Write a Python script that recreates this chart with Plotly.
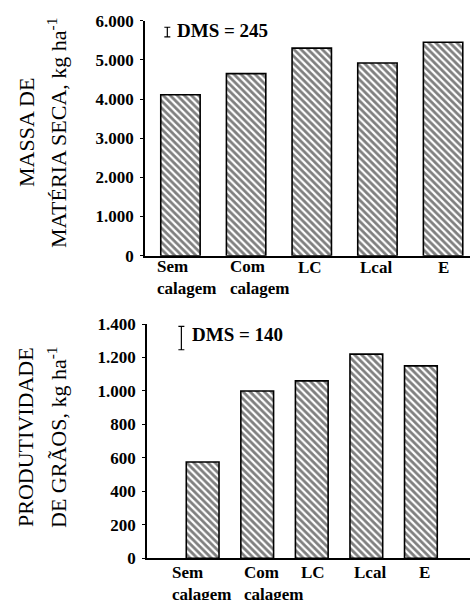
import plotly.graph_objects as go

# ---- data ----
categories = ["Sem<br>calagem", "Com<br>calagem", "LC", "Lcal", "E"]
massa_seca = [4110, 4650, 5300, 4920, 5450]
produtividade = [575, 1000, 1060, 1220, 1150]
dms_top = 245
dms_bottom = 140
dms_top_center = 5710
dms_bottom_center = 1316
top_ticks = [0, 1000, 2000, 3000, 4000, 5000, 6000]
top_ticktext = ["0", "1.000", "2.000", "3.000", "4.000", "5.000", "6.000"]
bottom_ticks = [0, 200, 400, 600, 800, 1000, 1200, 1400]
bottom_ticktext = ["0", "200", "400", "600", "800", "1.000", "1.200", "1.400"]

SERIF = "Liberation Serif"
idx = list(range(len(categories)))

fig = go.Figure()

bar_style = dict(
    marker=dict(color="white", line=dict(color="black", width=1.6),
                pattern=dict(shape="\\", fgcolor="black", bgcolor="white",
                             size=5, solidity=0.55)),
    width=0.6, showlegend=False, hoverinfo="skip")

fig.add_trace(go.Bar(x=idx, y=massa_seca, xaxis="x", yaxis="y", **bar_style))
fig.add_trace(go.Bar(x=idx, y=produtividade, xaxis="x2", yaxis="y2", **bar_style))

# DMS error bars
fig.add_trace(go.Scatter(x=[-0.2], y=[dms_top_center], xaxis="x", yaxis="y",
                         mode="markers", marker=dict(size=1, color="rgba(0,0,0,0)"),
                         error_y=dict(type="data", array=[dms_top / 2], color="black",
                                      thickness=1.2, width=3),
                         showlegend=False, hoverinfo="skip"))
fig.add_trace(go.Scatter(x=[-0.39], y=[dms_bottom_center], xaxis="x2", yaxis="y2",
                         mode="markers", marker=dict(size=1, color="rgba(0,0,0,0)"),
                         error_y=dict(type="data", array=[dms_bottom / 2], color="black",
                                      thickness=1.2, width=3),
                         showlegend=False, hoverinfo="skip"))

tickfont = dict(family=SERIF, size=17, color="black", weight="bold")
common_y = dict(showline=True, linecolor="black", linewidth=1.5, ticks="outside",
                ticklen=3, tickwidth=1.2, tickcolor="black", showgrid=False,
                zeroline=False, tickfont=tickfont, ticklabelstandoff=3,
                automargin=False)
common_x = dict(showline=True, linecolor="black", linewidth=1.5, ticks="",
                showgrid=False, zeroline=False, showticklabels=False,
                automargin=False)

fig.update_layout(
    width=470, height=600,
    margin=dict(l=0, r=0, t=0, b=0, autoexpand=False),
    paper_bgcolor="white", plot_bgcolor="white",
    xaxis=dict(domain=[145 / 470, 1], range=[-0.54, 4.41], anchor="y", **common_x),
    yaxis=dict(domain=[1 - 255.7 / 600, 1 - 20.7 / 600], range=[0, 6000], anchor="x",
               tickvals=top_ticks, ticktext=top_ticktext, **common_y),
    xaxis2=dict(domain=[147 / 470, 1], range=[-1.02, 4.9], anchor="y2", **common_x),
    yaxis2=dict(domain=[1 - 558.3 / 600, 1 - 324 / 600], range=[0, 1400], anchor="x2",
                tickvals=bottom_ticks, ticktext=bottom_ticktext, **common_y),
    bargap=0.4,
)

ann = []
lblfont = dict(family=SERIF, size=17, color="black", weight="bold")
# category labels
top_shift = [-25.5, -18.5, -2, -1.5, 0]
bot_shift = [-32.5, -15.5, 1.5, 4, 4]
for i, c in enumerate(categories):
    two = "<br>" in c
    ann.append(dict(x=i, y=(277 if two else 267), xref="x", yref="paper",
                    text=c, showarrow=False, font=lblfont,
                    xanchor="left" if two else "center", align="left",
                    yanchor="middle", xshift=top_shift[i]))
    ann.append(dict(x=i, y=(583 if two else 572.7), xref="x2", yref="paper",
                    text=c, showarrow=False, font=lblfont,
                    xanchor="left" if two else "center", align="left",
                    yanchor="middle", xshift=bot_shift[i]))
for a in ann:
    a["y"] = 1 - a["y"] / 600

dmsfont = dict(family=SERIF, size=19, color="black", weight="bold")
ann.append(dict(x=175 / 470, y=1 - 31 / 600, xref="paper", yref="paper",
                text="DMS = %d" % dms_top, showarrow=False, font=dmsfont,
                xanchor="left", yanchor="middle"))
ann.append(dict(x=190 / 470, y=1 - 334 / 600, xref="paper", yref="paper",
                text="DMS = %d" % dms_bottom, showarrow=False, font=dmsfont,
                xanchor="left", yanchor="middle"))

titlefont = dict(family=SERIF, size=22, color="black")
titles = [
    ("MASSA DE", 26, 133),
    ("MATÉRIA SECA, kg ha<sup>-1</sup>", 57, 133),
    ("PRODUTIVIDADE", 25, 437),
    ("DE GRÃOS, kg ha<sup>-1</sup>", 57, 437),
]
for t, px, py in titles:
    ann.append(dict(x=px / 470, y=1 - py / 600, xref="paper", yref="paper",
                    text=t, showarrow=False, font=titlefont, textangle=-90,
                    xanchor="center", yanchor="middle"))

fig.update_layout(annotations=ann)
fig.write_html("out.html", config={"displayModeBar": False},
               post_script="document.body.style.margin='0';document.body.style.padding='0';")
